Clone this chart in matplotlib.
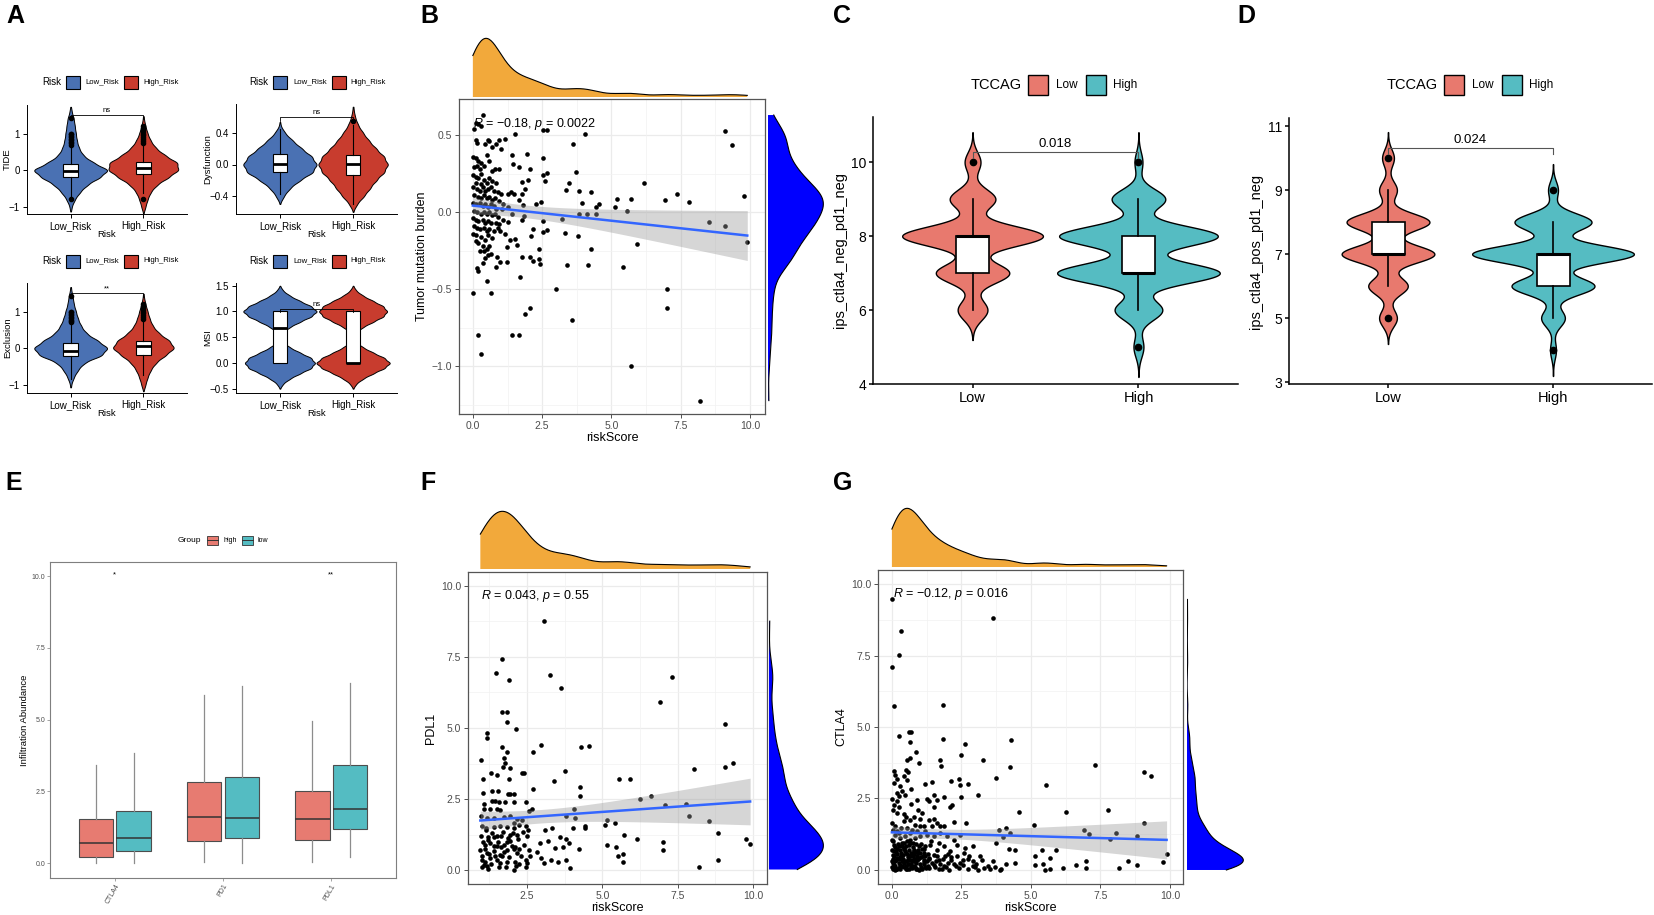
import numpy as np
import matplotlib
matplotlib.use("Agg")
import matplotlib.pyplot as plt
from matplotlib.patches import Rectangle
from matplotlib.lines import Line2D

plt.rcParams['font.family'] = ['Liberation Sans', 'DejaVu Sans']
plt.rcParams['mathtext.fontset'] = 'custom'
plt.rcParams['mathtext.rm'] = 'Liberation Sans'
plt.rcParams['mathtext.it'] = 'Liberation Sans:italic'

W, H = 1654, 915

# ---------------- panel A : TIDE / Dysfunction / Exclusion / MSI ----------------
risk_groups = ['Low_Risk', 'High_Risk']
risk_colors = ['#4A71B3', '#C83C2E']

# density profiles (bin centre -> relative count)
tide_grid = [-1.2, -1.0, -0.8, -0.6, -0.4, -0.2, 0.0, 0.2, 0.4, 0.6, 0.8, 1.0, 1.2, 1.4, 1.6]
tide_low = [0, 1, 4, 9, 16, 28, 37, 22, 12, 8, 6, 5, 4, 3, 1]
tide_high = [0, 2, 4, 7, 13, 24, 34, 33, 21, 12, 7, 4, 2, 0.5, 0]
exc_low = [0, 0.5, 3, 7, 13, 30, 36, 26, 15, 10, 7, 5, 3, 2, 0.5]
exc_high = [0, 2, 4, 7, 12, 21, 30, 25, 15, 9, 6, 4, 2, 0.5, 0]
dys_grid = [-0.6, -0.5, -0.4, -0.3, -0.2, -0.1, 0.0, 0.1, 0.2, 0.3, 0.4, 0.5, 0.6, 0.7]
dys_low = [0, 0, 4, 10, 20, 33, 37, 32, 22, 13, 5, 0.5, 0, 0]
dys_high = [0, 4, 11, 17, 23, 31, 35, 31, 23, 16, 10, 5, 2, 0.5]
msi_grid = [-0.5, -0.4, -0.3, -0.2, -0.1, 0.0, 0.1, 0.2, 0.3, 0.4, 0.5,
            0.6, 0.7, 0.8, 0.9, 1.0, 1.1, 1.2, 1.3, 1.4, 1.5]
msi_low = [0, 3, 10, 20, 31, 35, 31, 20, 10, 3, 1, 3, 10, 20, 31, 37, 31, 20, 10, 3, 0]
msi_high = [0, 3, 10, 20, 31, 37, 31, 20, 10, 3, 1, 3, 10, 20, 30, 34, 30, 20, 10, 3, 0]

# box stats: q1, median, q3, lower whisker, upper whisker
tide_box = [(-0.18, -0.03, 0.17, -0.72, 0.67), (-0.12, 0.07, 0.22, -0.62, 0.7)]
tide_out = [[0.7, 0.74, 0.78, 0.82, 0.86, 0.9, 0.94, 0.98, 1.0, 1.43, -0.8],
            [0.75, 0.8, 0.85, 0.9, 0.95, 1.0, 1.05, 1.1, 1.15, 1.2, -0.8]]
dys_box = [(-0.1, 0.01, 0.13, -0.37, 0.45), (-0.13, 0.01, 0.12, -0.5, 0.5)]
dys_out = [[], [0.55]]
exc_box = [(-0.21, -0.08, 0.14, -0.85, 0.66), (-0.18, 0.05, 0.2, -0.75, 0.75)]
exc_out = [[0.7, 0.74, 0.78, 0.82, 0.86, 0.9, 0.94, 0.98, 1.0, 1.42],
           [0.8, 0.85, 0.9, 0.95, 1.0, 1.05, 1.1, 1.15, 1.2]]
msi_box = [(0.0, 0.67, 1.0, 0.0, 1.0), (0.0, 0.0, 1.0, 0.0, 1.0)]
msi_out = [[], []]

# ---------------- panel B : TMB vs riskScore ----------------
b_pts = [(4.05, 0.51), (3.63, 0.44), (3.72, 0.26), (3.47, 0.19), (3.36, 0.145), (3.84, 0.135),
         (4.27, 0.13), (3.95, 0.056), (4.43, 0.032), (4.56, 0.05), (4.1, -0.01), (4.46, -0.01),
         (3.83, -0.01), (3.2, -0.043), (3.31, -0.136), (3.78, -0.156), (4.25, -0.238), (4.14, -0.34),
         (3.41, -0.34), (3.0, -0.496), (3.56, -0.7), (5.13, 0.032), (5.19, 0.082), (5.56, 0.006),
         (5.69, 0.082), (6.17, 0.186), (5.93, -0.206), (5.43, -0.357), (5.7, -1.0), (6.94, 0.076),
         (7.35, 0.119), (7.81, 0.063), (6.99, -0.496), (6.99, -0.621), (8.52, -0.067), (9.09, -0.089),
         (9.1, 0.524), (9.35, 0.435), (9.78, 0.106), (9.9, -0.195), (8.21, -1.223),
         (1.52, 0.51), (1.15, 0.476), (2.54, 0.53), (2.67, 0.53), (1.94, 0.38), (1.4, 0.37),
         (2.54, 0.35), (2.54, 0.24), (2.67, 0.253), (2.06, 0.28), (1.68, 0.29), (1.44, 0.31),
         (1.78, 0.195), (2.0, 0.21), (2.6, 0.2), (1.88, 0.147), (1.78, 0.119), (1.68, 0.076),
         (2.26, 0.054), (2.46, 0.065), (1.82, 0.043), (1.85, -0.022), (1.76, -0.054), (2.54, -0.058),
         (2.54, -0.13), (2.67, -0.115), (2.16, -0.11), (2.1, -0.154), (2.37, -0.238), (2.37, -0.303),
         (2.43, -0.335), (2.16, -0.32), (1.76, -0.288), (2.06, -0.288), (1.7, -0.42), (2.06, -0.62),
         (1.88, -0.66), (1.67, -0.797), (1.43, -0.797), (1.38, 0.13), (1.49, 0.12), (1.25, 0.12),
         (1.1, 0.054), (1.25, 0.032), (1.04, 0.02), (1.4, -0.01), (1.1, -0.054), (1.25, -0.065),
         (0.98, -0.12), (1.16, -0.14), (1.34, -0.184), (1.22, -0.227), (1.52, -0.173), (1.58, -0.216),
         (0.86, -0.29), (0.98, -0.325), (1.22, -0.325), (0.84, -0.357), (0.5, -0.444), (0.66, -0.524),
         (0.02, -0.524), (0.17, -0.797), (0.31, -0.922),
         (0.36, 0.63), (0.1, 0.58), (0.2, 0.57), (0.3, 0.56), (0.05, 0.54), (0.1, 0.47), (0.15, 0.45),
         (0.6, 0.46), (0.7, 0.42), (0.45, 0.44), (0.55, 0.47), (0.95, 0.47), (0.85, 0.44), (1.0, 0.41),
         (0.0, 0.36), (0.1, 0.35), (0.2, 0.33), (0.3, 0.32), (0.15, 0.30), (0.05, 0.29), (0.25, 0.28),
         (0.4, 0.30), (0.6, 0.33), (0.5, 0.37), (0.7, 0.27), (0.8, 0.28), (0.95, 0.28),
         (0.0, 0.24), (0.1, 0.23), (0.2, 0.22), (0.3, 0.25), (0.4, 0.21), (0.5, 0.19), (0.6, 0.22),
         (0.7, 0.2), (0.85, 0.19), (0.1, 0.19), (0.3, 0.18),
         (0.0, 0.16), (0.15, 0.15), (0.25, 0.14), (0.35, 0.16), (0.45, 0.14), (0.55, 0.15),
         (0.65, 0.16), (0.75, 0.14), (0.9, 0.13), (1.0, 0.12),
         (0.05, 0.11), (0.2, 0.1), (0.3, 0.09), (0.4, 0.11), (0.5, 0.09), (0.6, 0.1), (0.7, 0.08),
         (0.8, 0.09), (0.95, 0.07),
         (0.0, 0.06), (0.1, 0.05), (0.25, 0.06), (0.35, 0.04), (0.45, 0.05), (0.55, 0.03),
         (0.65, 0.05), (0.75, 0.04), (0.85, 0.02),
         (0.05, 0.01), (0.15, 0.0), (0.3, -0.01), (0.4, 0.0), (0.5, -0.01), (0.6, 0.0), (0.7, -0.02),
         (0.8, -0.01), (0.9, -0.03),
         (0.0, -0.04), (0.1, -0.05), (0.2, -0.06), (0.35, -0.05), (0.45, -0.07), (0.55, -0.06),
         (0.65, -0.07), (0.85, -0.07), (0.95, -0.08),
         (0.05, -0.09), (0.15, -0.1), (0.25, -0.11), (0.4, -0.1), (0.5, -0.12), (0.6, -0.11),
         (0.75, -0.12), (0.9, -0.1),
         (0.0, -0.14), (0.1, -0.15), (0.3, -0.16), (0.45, -0.18), (0.55, -0.15), (0.7, -0.17),
         (0.2, -0.2), (0.35, -0.22), (0.4, -0.25), (0.5, -0.24), (0.65, -0.27), (0.1, -0.19),
         (0.25, -0.25), (0.45, -0.3), (0.55, -0.28), (0.15, -0.36), (0.2, -0.38), (0.35, -0.33),
         (0.6, -0.22)]
b_label = r'$R$ = −0.18, $p$ = 0.0022'

# ---------------- panels C / D : IPS scores ----------------
tcc_groups = ['Low', 'High']
tcc_colors = ['#E8796E', '#55BCC2']
c_vals_low, c_cnt_low = [6, 7, 8, 9, 10], [15, 37, 71, 23, 8]
c_vals_high, c_cnt_high = [5, 6, 7, 8, 9, 10], [5, 24, 82, 80, 27, 4]
c_box = [(7, 8, 8, 6, 9), (7, 7, 8, 6, 9)]
c_out = [[10], [10, 5]]
d_vals_low, d_cnt_low = [5, 6, 7, 8, 9, 10], [9, 20, 47, 42, 9, 6]
d_vals_high, d_cnt_high = [4, 5, 6, 7, 8, 9], [3, 12, 42, 82, 39, 5]
d_box = [(7, 7, 8, 6, 9), (6, 7, 7, 5, 8)]
d_out = [[10, 5], [9, 4]]

# ---------------- panel E : checkpoint boxplots ----------------
e_genes = ['CTLA4', 'PD1', 'PDL1']
e_groups = ['high', 'low']
e_colors = ['#E77B71', '#54BCC2']
# q1, median, q3, lower whisker, upper whisker  (high, low per gene)
e_high = [(0.2, 0.69, 1.53, 0.0, 3.41), (0.78, 1.59, 2.82, 0.05, 5.85), (0.8, 1.54, 2.5, 0.05, 4.96)]
e_low = [(0.41, 0.87, 1.82, 0.0, 3.82), (0.86, 1.56, 2.99, 0.0, 6.18), (1.18, 1.87, 3.41, 0.2, 6.26)]
e_sig = ['*', '', '**']

# ---------------- panel F : PDL1 vs riskScore ----------------
f_pts = [(3.08, 8.76), (1.66, 7.42), (1.47, 6.93), (1.89, 6.68), (3.26, 6.85), (3.64, 6.42), (7.33, 6.81),
         (6.92, 5.91), (9.08, 5.13), (1.68, 5.56), (1.83, 5.56), (1.85, 5.2), (2.12, 4.97), (1.18, 4.84),
         (1.18, 4.64), (1.67, 4.34), (2.95, 4.4), (4.28, 4.33), (4.57, 4.38), (1.85, 4.14), (2.7, 4.14),
         (1.75, 3.94), (0.98, 3.88), (1.78, 3.76), (1.69, 3.61), (1.95, 3.59), (1.3, 3.42), (1.5, 3.34),
         (2.34, 3.43), (2.41, 3.43), (3.76, 3.5), (8.05, 3.56), (9.08, 3.63), (9.33, 3.76), (1.04, 3.19),
         (1.89, 3.19), (3.38, 3.13), (5.54, 3.19), (5.92, 3.22), (4.25, 2.93), (2.71, 2.86), (1.04, 2.72),
         (1.35, 2.79), (1.54, 2.79), (1.87, 2.66), (2.06, 2.66), (1.95, 2.66), (4.25, 2.6), (6.62, 2.6),
         (6.26, 2.51), (7.78, 2.33), (7.09, 2.3), (1.07, 2.32), (1.34, 2.44), (1.45, 2.44), (1.56, 2.39),
         (1.76, 2.4), (2.06, 2.39), (2.45, 2.39), (1.07, 2.15), (1.28, 2.15), (1.5, 2.15), (1.61, 2.12),
         (2.56, 2.09), (2.67, 2.16), (4.07, 2.15), (0.98, 1.91), (1.17, 1.83), (1.39, 1.83), (1.72, 1.86),
         (1.95, 1.89), (2.17, 1.79), (2.33, 1.77), (3.8, 1.9), (4.11, 1.83), (7.87, 1.9), (8.53, 1.74),
         (5.15, 1.77), (5.41, 1.64), (5.09, 1.59), (2.06, 1.65), (2.22, 1.59), (2.45, 1.54), (2.52, 1.42),
         (0.99, 1.54), (1.15, 1.48), (1.39, 1.51), (1.61, 1.54), (1.84, 1.5), (2.06, 1.48), (3.34, 1.48),
         (3.11, 1.42), (4.02, 1.48), (4.41, 1.54), (4.44, 1.48), (0.97, 1.21), (1.19, 1.18), (1.42, 1.16),
         (1.64, 1.21), (1.86, 1.13), (2.17, 1.24), (3.61, 1.18), (3.78, 1.09), (3.88, 0.95), (5.72, 1.24),
         (6.15, 1.11), (8.85, 1.32), (9.77, 1.11), (9.91, 0.93), (7.0, 0.98), (7.0, 0.7), (1.12, 0.89),
         (1.28, 0.95), (1.5, 0.83), (1.72, 0.89), (1.95, 1.01), (2.11, 0.81), (0.95, 0.72), (1.17, 0.6),
         (1.39, 0.66), (1.61, 0.54), (1.84, 0.69), (2.06, 0.74), (2.22, 0.74), (2.92, 0.94), (3.19, 1.01),
         (3.42, 0.77), (3.69, 0.81), (4.21, 0.74), (5.15, 0.87), (5.45, 0.8), (2.83, 0.62), (2.61, 0.5),
         (2.96, 0.42), (3.3, 0.36), (3.79, 0.36), (3.54, 0.27), (2.45, 0.34), (2.51, 0.25), (3.05, 0.25),
         (5.53, 0.5), (5.69, 0.56), (5.69, 0.29), (3.94, 0.07), (2.06, 0.02), (8.2, 0.1), (8.83, 0.36),
         (1.01, 0.48), (1.12, 0.3), (1.28, 0.42), (1.5, 0.34), (1.67, 0.48), (1.84, 0.27), (1.06, 0.19),
         (1.17, 0.13), (2.17, 0.6),
         (1.0, 0.35), (1.1, 0.75), (1.2, 1.05), (1.3, 0.2), (1.35, 1.3), (1.45, 0.5), (1.55, 1.0),
         (1.6, 0.25), (1.7, 1.35), (1.75, 0.65), (1.8, 0.1), (1.9, 0.45), (1.95, 1.25), (2.0, 0.85),
         (2.1, 0.3), (2.2, 1.1), (2.3, 0.5), (2.4, 0.9), (2.5, 1.2), (2.55, 0.7), (1.05, 1.0), (1.15, 1.4),
         (1.25, 0.55), (1.4, 0.85), (1.5, 1.2), (1.65, 0.8), (1.85, 1.0), (2.05, 1.3), (2.25, 0.2),
         (2.35, 1.35), (1.02, 0.1), (1.22, 0.05), (1.58, 0.12), (2.15, 0.15), (2.45, 0.1)]
f_label = r'$R$ = 0.043, $p$ = 0.55'

# ---------------- panel G : CTLA4 vs riskScore ----------------
g_pts = [(0.0, 9.46), (0.34, 8.36), (0.25, 7.51), (0.02, 7.1), (0.06, 5.74), (3.63, 8.82), (1.84, 5.76),
         (0.25, 4.68), (0.61, 4.83), (0.69, 4.84), (0.66, 4.47), (1.83, 4.59), (4.28, 4.54), (2.63, 4.39),
         (0.85, 4.12), (0.56, 3.85), (0.66, 3.91), (0.96, 3.74), (1.74, 3.85), (2.48, 4.03), (3.27, 3.85),
         (1.77, 3.64), (4.23, 3.61), (7.32, 3.67), (9.07, 3.41), (9.32, 3.27), (0.49, 3.5), (0.57, 3.41),
         (0.42, 3.27), (0.54, 3.15), (0.06, 3.45), (0.12, 3.33), (0.18, 3.18), (0.06, 3.04), (0.3, 2.92),
         (3.76, 3.22), (5.53, 2.97), (1.19, 3.0), (1.46, 3.06), (2.13, 3.11), (2.41, 3.18), (2.72, 3.0),
         (2.46, 2.98), (0.69, 2.83), (0.36, 2.75), (0.48, 2.63), (0.24, 2.57), (1.86, 2.56), (1.51, 2.63),
         (1.62, 2.46), (2.49, 2.56), (3.08, 2.62), (0.92, 2.43), (1.28, 2.48), (1.32, 2.4), (2.16, 2.26),
         (2.08, 2.19), (1.5, 2.22), (0.01, 2.49), (0.18, 2.4), (0.08, 2.28), (0.24, 2.22), (0.04, 2.11),
         (0.18, 1.99), (4.56, 2.04), (6.25, 2.03), (7.78, 2.1), (0.95, 2.11), (1.09, 2.01), (0.51, 1.87),
         (0.66, 1.76), (0.78, 1.84), (0.42, 1.7), (2.22, 1.69), (2.68, 1.64), (1.32, 1.76), (1.5, 1.78),
         (1.62, 1.64), (1.74, 1.53), (1.86, 1.53), (1.44, 1.55), (1.14, 1.53), (5.1, 1.56), (9.05, 1.63),
         (0.01, 1.64), (0.12, 1.53), (0.04, 1.41), (0.2, 1.35), (0.32, 1.47), (0.54, 1.47), (0.72, 1.41),
         (0.9, 1.35), (1.02, 1.53), (0.84, 1.58), (3.84, 1.41), (4.12, 1.47), (6.9, 1.41), (7.09, 1.27),
         (7.84, 1.09), (8.05, 1.29), (8.83, 1.2), (4.26, 1.29), (4.01, 1.14), (3.76, 0.94), (1.26, 1.23),
         (1.5, 1.18), (1.74, 1.29), (1.98, 1.18), (2.22, 1.06), (2.46, 1.23), (0.12, 1.23), (0.3, 1.12),
         (0.48, 1.18), (0.66, 1.06), (0.84, 1.12), (1.02, 1.18), (0.0, 1.06),
         (0.06, 0.88), (0.24, 0.83), (0.42, 0.77), (0.6, 0.88), (0.78, 0.71), (0.96, 0.83), (1.14, 0.73),
         (1.38, 0.88), (1.62, 0.71), (1.86, 0.83), (2.1, 0.65), (2.34, 0.88), (2.64, 0.77), (2.91, 0.83),
         (4.2, 0.75), (4.41, 0.71), (5.4, 0.69), (5.92, 0.69),
         (0.05, 0.54), (0.2, 0.42), (0.4, 0.54), (0.57, 0.36), (0.75, 0.48), (0.92, 0.34), (1.11, 0.48),
         (1.32, 0.38), (1.52, 0.54), (1.71, 0.36), (1.92, 0.48), (2.12, 0.34), (2.34, 0.5), (2.55, 0.36),
         (2.79, 0.48), (3.17, 0.5), (5.15, 0.5), (5.69, 0.42), (9.88, 0.57), (9.76, 0.28), (8.5, 0.33),
         (6.98, 0.3), (6.61, 0.19), (6.98, 0.07), (5.15, 0.19), (5.45, 0.22), (4.43, 0.24), (4.1, 0.22),
         (8.8, 0.17), (8.18, 0.06), (6.14, 0.07), (5.69, 0.05), (5.51, 0.01),
         (0.06, 0.19), (0.24, 0.07), (0.42, 0.24), (0.6, 0.03), (0.78, 0.15), (0.96, 0.01), (1.14, 0.22),
         (1.32, 0.07), (1.5, 0.19), (1.68, 0.03), (1.86, 0.15), (2.04, 0.01), (2.22, 0.22), (2.4, 0.07),
         (2.57, 0.19), (2.75, 0.03), (2.93, 0.15), (3.11, 0.01), (3.32, 0.07), (3.53, 0.03), (3.71, 0.1),
         (3.89, 0.01),
         (0.1, 0.3), (0.3, 0.1), (0.5, 0.6), (0.7, 0.2), (0.9, 0.62), (1.2, 0.1), (0.15, 0.62), (0.35, 0.95),
         (0.55, 1.0), (0.75, 0.95), (0.95, 0.4), (1.05, 0.9), (0.25, 1.3), (0.65, 1.3), (1.2, 1.35),
         (0.02, 0.3), (0.02, 0.7), (0.1, 0.0), (0.3, 0.45), (0.5, 0.15), (0.8, 0.3), (1.0, 0.6), (1.3, 0.55),
         (1.6, 0.3), (1.8, 0.05), (2.0, 0.25), (2.3, 0.15), (0.45, 1.95), (0.2, 2.7), (0.7, 2.3), (1.0, 1.8),
         (1.15, 0.35), (1.4, 1.0), (1.7, 0.95), (2.0, 0.55), (2.6, 0.6), (2.9, 0.3), (3.0, 0.1), (0.05, 0.05),
         (0.35, 0.3), (0.6, 0.5), (0.85, 0.05),
         (0.02, 0.1), (0.05, 0.4), (0.08, 0.65), (0.1, 0.15), (0.12, 0.8), (0.15, 0.35), (0.18, 0.05),
         (0.2, 0.55), (0.22, 0.9), (0.25, 0.25), (0.28, 0.7), (0.3, 0.02), (0.32, 0.5), (0.35, 0.85),
         (0.38, 0.15), (0.4, 0.4), (0.42, 0.95), (0.45, 0.1), (0.48, 0.65), (0.5, 0.3), (0.52, 0.85),
         (0.55, 0.05), (0.58, 0.45), (0.6, 0.7), (0.62, 0.2), (0.65, 0.95), (0.68, 0.35), (0.7, 0.6),
         (0.72, 0.08), (0.75, 0.8), (0.78, 0.4), (0.8, 0.55), (0.82, 0.12), (0.85, 0.9), (0.88, 0.25),
         (0.9, 0.5), (0.95, 0.7), (1.0, 0.2), (1.05, 0.45), (1.1, 0.05), (1.15, 0.6), (1.2, 0.85),
         (1.25, 0.3), (1.3, 0.15), (0.03, 1.0),
         (0.04, 0.25), (0.09, 0.5), (0.14, 0.02), (0.19, 0.75), (0.24, 0.4), (0.29, 0.18), (0.34, 0.6),
         (0.39, 0.3), (0.44, 0.75), (0.49, 0.05), (0.54, 0.55), (0.59, 0.22), (0.64, 0.48), (0.69, 0.1),
         (0.74, 0.32), (0.79, 0.68), (0.84, 0.38), (0.89, 0.02), (0.94, 0.58), (0.99, 0.42), (1.04, 0.12),
         (1.09, 0.72), (1.14, 0.28), (1.19, 0.5), (1.24, 0.06), (1.34, 0.42), (1.44, 0.26), (1.54, 0.12),
         (1.64, 0.48), (1.74, 0.2), (1.84, 0.38), (1.94, 0.1), (2.14, 0.45), (2.44, 0.25), (2.74, 0.4),
         (3.04, 0.2), (3.24, 0.35), (3.44, 0.15), (3.64, 0.3), (3.94, 0.05)]
g_label = r'$R$ = −0.12, $p$ = 0.016'

# =====================================================================
fig = plt.figure(figsize=(W / 100, H / 100), dpi=100)
fig.patch.set_facecolor('white')


def add_ax(x0, y0, x1, y1):
    return fig.add_axes([x0 / W, 1 - y1 / H, (x1 - x0) / W, (y1 - y0) / H])


def fx(px):
    return px / W


def fy(py):
    return 1 - py / H


def legend_row(title, tx, ty, items, tsize, lsize, bw, bh, lw=0.8, key='box'):
    fig.text(fx(tx), fy(ty), title, fontsize=tsize, ha='left', va='center')
    for bx, col, lx, lab in items:
        fig.add_artist(Rectangle((fx(bx), fy(ty + bh / 2)), bw / W, bh / H, transform=fig.transFigure,
                                 facecolor=col, edgecolor='#333333' if key == 'bp' else 'black', lw=lw))
        if key == 'bp':
            fig.add_artist(Line2D([fx(bx), fx(bx + bw)], [fy(ty), fy(ty)], transform=fig.transFigure,
                                  color='#333333', lw=0.7))
        fig.text(fx(lx), fy(ty), lab, fontsize=lsize, ha='left', va='center')


def kde_counts(centers, counts, bw, ys):
    c = np.asarray(centers, float)[:, None]
    w = np.asarray(counts, float)[:, None]
    return (w * np.exp(-0.5 * ((ys[None, :] - c) / bw) ** 2)).sum(0)


def violin(ax, pos, centers, counts, bw, scale, color, lw, lo=None, hi=None, crop=0.01):
    if lo is None:
        ys = np.linspace(min(centers) - 3 * bw, max(centers) + 3 * bw, 600)
        d = kde_counts(centers, counts, bw, ys)
        keep = np.where(d > crop * d.max())[0]
        ys, d = ys[keep[0]:keep[-1] + 1], d[keep[0]:keep[-1] + 1]
    else:
        ys = np.linspace(lo, hi, 600)
        d = kde_counts(centers, counts, bw, ys)
    d = d * scale
    ax.fill_betweenx(ys, pos - d, pos + d, facecolor=color, edgecolor='black', lw=lw, zorder=2)


def box_stats(t, fl):
    return dict(q1=t[0], med=t[1], q3=t[2], whislo=t[3], whishi=t[4], fliers=fl)


def kde_peak(centers, counts, bw):
    ys = np.linspace(min(centers) - 1, max(centers) + 1, 800)
    return kde_counts(centers, counts, bw, ys).max()


def classic_axes(ax, lw, tick_size):
    for s in ['top', 'right']:
        ax.spines[s].set_visible(False)
    for s in ['left', 'bottom']:
        ax.spines[s].set_linewidth(lw)
    ax.tick_params(width=lw, length=3, labelsize=tick_size, colors='black', pad=2)


# ---------------- panel A ----------------
a_specs = [
    ((27, 105, 187, 214), 82, tide_grid, tide_low, tide_high, 0.1, tide_box, tide_out,
     (-1.2, 1.78), [-1, 0, 1], ['−1', '0', '1'], 'TIDE', 1.5, 'ns'),
    ((236, 104, 397, 214), 82, dys_grid, dys_low, dys_high, 0.05, dys_box, dys_out,
     (-0.63, 0.77), [-0.4, 0.0, 0.4], ['−0.4', '0.0', '0.4'], 'Dysfunction', 0.6, 'ns'),
    ((27, 283, 187, 393), 261, tide_grid, exc_low, exc_high, 0.1, exc_box, exc_out,
     (-1.23, 1.78), [-1, 0, 1], ['−1', '0', '1'], 'Exclusion', 1.5, '**'),
    ((236, 283, 397, 393), 261, msi_grid, msi_low, msi_high, 0.05, msi_box, msi_out,
     (-0.58, 1.55), [-0.5, 0.0, 0.5, 1.0, 1.5], ['−0.5', '0.0', '0.5', '1.0', '1.5'], 'MSI', 1.05, 'ns'),
]
for rect, ly, grid, cl, ch, bwa, boxes, outs, ylim, yt, ytl, ylab, bry, sig in a_specs:
    ax = add_ax(*rect)
    peak = max(kde_peak(grid, cl, bwa), kde_peak(grid, ch, bwa))
    for i, cnt in enumerate([cl, ch]):
        violin(ax, i + 1, grid, cnt, bwa, 0.5 / peak, risk_colors[i], 0.7)
    ax.bxp([box_stats(boxes[0], outs[0]), box_stats(boxes[1], outs[1])], positions=[1, 2], widths=0.2,
           patch_artist=True, showcaps=False,
           boxprops=dict(facecolor='white', edgecolor='black', lw=0.8),
           medianprops=dict(color='black', lw=2.0),
           whiskerprops=dict(color='black', lw=0.8),
           flierprops=dict(marker='o', markerfacecolor='black', markeredgecolor='black', markersize=3),
           zorder=3)
    span = ylim[1] - ylim[0]
    ax.plot([1, 1, 2, 2], [bry - 0.03 * span, bry, bry, bry - 0.03 * span], color='black', lw=0.6, zorder=4)
    ax.text(1.5, bry + 0.01 * span, sig, ha='center', va='bottom', fontsize=5.5)
    ax.set_xlim(0.4, 2.6)
    ax.set_ylim(*ylim)
    ax.set_yticks(yt)
    ax.set_yticklabels(ytl)
    ax.set_xticks([1, 2])
    ax.set_xticklabels(risk_groups, fontsize=7)
    classic_axes(ax, 0.7, 7)
    ax.set_ylabel(ylab, fontsize=6.8)
    ax.set_xlabel('Risk', fontsize=6.8)
    x0 = rect[0]
    if x0 < 100:
        ax.yaxis.set_label_coords(-0.094, 0.5)
        items = [(66, risk_colors[0], 85, 'Low_Risk'), (124, risk_colors[1], 143, 'High_Risk')]
        legend_row('Risk', 42, ly, items, 7, 5.6, 14, 13)
    else:
        ax.yaxis.set_label_coords(-0.149, 0.5)
        items = [(273, risk_colors[0], 293, 'Low_Risk'), (332, risk_colors[1], 350, 'High_Risk')]
        legend_row('Risk', 249, ly, items, 7, 5.6, 14, 13)
    ax.xaxis.set_label_coords(0.5, -0.145)


# ---------------- scatter + marginal helper (B, F, G) ----------------
def nrd0(v):
    v = np.asarray(v, float)
    iqr = np.subtract(*np.percentile(v, [75, 25]))
    return 0.9 * min(np.std(v, ddof=1), iqr / 1.34) * len(v) ** -0.2


def density(v, grid):
    v = np.asarray(v, float)
    h = nrd0(v)
    return np.exp(-0.5 * ((grid[:, None] - v[None, :]) / h) ** 2).sum(1) / (len(v) * h * np.sqrt(2 * np.pi))


def scatter_panel(pts, main, top, right, xlim, ylim, xt, xtl, yt, ytl, ylab, label, lab_xy):
    x, y = np.array(pts, float).T
    ax = add_ax(*main)
    ax.set_facecolor('white')
    for v in xt:
        ax.axvline(v, color='#EBEBEB', lw=0.9, zorder=0)
    for v in yt:
        ax.axhline(v, color='#EBEBEB', lw=0.9, zorder=0)
    xm = np.array(xt[:-1]) + np.diff(xt) / 2
    ym = np.array(yt[:-1]) + np.diff(yt) / 2
    for v in list(xm) + [xt[0] - (xt[1] - xt[0]) / 2]:
        ax.axvline(v, color='#F2F2F2', lw=0.5, zorder=0)
    for v in list(ym) + [yt[-1] + (yt[1] - yt[0]) / 2, yt[0] - (yt[1] - yt[0]) / 2]:
        ax.axhline(v, color='#F2F2F2', lw=0.5, zorder=0)
    ax.scatter(x, y, s=11, color='black', linewidths=0, zorder=2)
    # linear fit with 95% band
    b, a = np.polyfit(x, y, 1)
    xs = np.linspace(x.min(), x.max(), 100)
    yh = a + b * xs
    n = len(x)
    s = np.sqrt(((y - (a + b * x)) ** 2).sum() / (n - 2))
    se = s * np.sqrt(1 / n + (xs - x.mean()) ** 2 / ((x - x.mean()) ** 2).sum())
    ax.fill_between(xs, yh - 1.97 * se, yh + 1.97 * se, color='#999999', alpha=0.4, lw=0, zorder=3)
    ax.plot(xs, yh, color='#3366FF', lw=1.8, zorder=4)
    ax.text(lab_xy[0], lab_xy[1], label, fontsize=9, ha='left', va='center', zorder=5)
    ax.set_xlim(*xlim)
    ax.set_ylim(*ylim)
    ax.set_xticks(xt)
    ax.set_xticklabels(xtl)
    ax.set_yticks(yt)
    ax.set_yticklabels(ytl)
    for sp in ax.spines.values():
        sp.set_color('#555555')
        sp.set_linewidth(0.9)
    ax.tick_params(length=3, width=0.6, color='#333333', labelsize=7.5, labelcolor='#4D4D4D', pad=2)
    ax.set_ylabel(ylab, fontsize=9)
    ax.yaxis.set_label_coords(-31 / (main[2] - main[0]), 0.5)
    ax.set_xlabel('riskScore', fontsize=9, labelpad=1)

    gx = np.linspace(x.min(), x.max(), 300)
    dx = density(x, gx)
    axt = add_ax(*top)
    axt.fill_between(gx, 0, dx, facecolor='#F2A93B', edgecolor='none')
    axt.plot(gx, dx, color='black', lw=0.8)
    axt.set_xlim(*xlim)
    axt.set_ylim(0, dx.max() * 1.04)
    axt.axis('off')

    gy = np.linspace(y.min(), y.max(), 300)
    dy = density(y, gy)
    axr = add_ax(*right)
    axr.fill_betweenx(gy, 0, dy, facecolor='#0000FF', edgecolor='none')
    axr.plot(dy, gy, color='black', lw=0.8)
    axr.set_ylim(*ylim)
    axr.set_xlim(0, dy.max() * 1.03)
    axr.axis('off')


scatter_panel(b_pts, (459, 99, 765, 414), (459, 36, 765, 97), (768, 99, 825, 414),
              (-0.5, 10.54), (-1.31, 0.734), [0, 2.5, 5, 7.5, 10], ['0.0', '2.5', '5.0', '7.5', '10.0'],
              [-1.0, -0.5, 0.0, 0.5], ['−1.0', '−0.5', '0.0', '0.5'], 'Tumor mutation burden',
              b_label, (0.02, 0.575))
scatter_panel(f_pts, (468, 572, 767, 884), (468, 509, 767, 569), (769, 572, 825, 884),
              (0.54, 10.47), (-0.49, 10.49), [2.5, 5, 7.5, 10], ['2.5', '5.0', '7.5', '10.0'],
              [0, 2.5, 5, 7.5, 10], ['0.0', '2.5', '5.0', '7.5', '10.0'], 'PDL1',
              f_label, (0.98, 9.66))
scatter_panel(g_pts, (878, 570, 1183, 884), (878, 506, 1183, 567), (1187, 570, 1245, 884),
              (-0.5, 10.47), (-0.49, 10.49), [0, 2.5, 5, 7.5, 10], ['0.0', '2.5', '5.0', '7.5', '10.0'],
              [0, 2.5, 5, 7.5, 10], ['0.0', '2.5', '5.0', '7.5', '10.0'], 'CTLA4',
              g_label, (0.03, 9.65))


# ---------------- panels C / D ----------------
def ips_panel(rect, vl, cl, vh, ch, bwv, boxes, outs, ylim, yt, ylab, bry, ptxt, leg_x):
    ax = add_ax(*rect)
    peak = max(kde_peak(vl, cl, bwv), kde_peak(vh, ch, bwv))
    for i, (v, c) in enumerate([(vl, cl), (vh, ch)]):
        violin(ax, i + 1, v, c, bwv, 0.49 / peak, tcc_colors[i], 1.0,
               lo=min(v) - 3 * bwv, hi=max(v) + 3 * bwv)
    ax.bxp([box_stats(boxes[0], outs[0]), box_stats(boxes[1], outs[1])], positions=[1, 2], widths=0.2,
           patch_artist=True, showcaps=False,
           boxprops=dict(facecolor='white', edgecolor='black', lw=1.2),
           medianprops=dict(color='black', lw=2.2),
           whiskerprops=dict(color='black', lw=1.2),
           flierprops=dict(marker='o', markerfacecolor='black', markeredgecolor='black', markersize=4.5),
           zorder=3)
    ax.plot([1, 1, 2, 2], [bry - 0.17, bry, bry, bry - 0.17], color='#555555', lw=0.8, zorder=4)
    ax.text(1.5, bry + 0.05, ptxt, ha='center', va='bottom', fontsize=9.5)
    ax.set_xlim(0.4, 2.6)
    ax.set_ylim(*ylim)
    ax.set_yticks(yt)
    ax.set_xticks([1, 2])
    ax.set_xticklabels(tcc_groups, fontsize=10.5)
    classic_axes(ax, 1.1, 10)
    ax.tick_params(axis='x', labelsize=10.5)
    ax.set_ylabel(ylab, fontsize=10.5)
    ax.yaxis.set_label_coords(-26 / (rect[2] - rect[0]), 0.5)
    items = [(leg_x + 57, tcc_colors[0], leg_x + 85, 'Low'), (leg_x + 115, tcc_colors[1], leg_x + 142, 'High')]
    legend_row('TCCAG', leg_x, 85, items, 10.5, 8.5, 20, 20, lw=1.0)


ips_panel((873, 117, 1238, 384), c_vals_low, c_cnt_low, c_vals_high, c_cnt_high, 0.27, c_box, c_out,
          (4.0, 11.22), [4, 6, 8, 10], 'ips_ctla4_neg_pd1_neg', 10.27, '0.018', 971)
ips_panel((1289, 118, 1652, 384), d_vals_low, d_cnt_low, d_vals_high, d_cnt_high, 0.27, d_box, d_out,
          (2.94, 11.25), [3, 5, 7, 9, 11], 'ips_ctla4_pos_pd1_neg', 10.31, '0.024', 1387)

# ---------------- panel E ----------------
axe = add_ax(50, 562, 396, 878)
stats, pos, cols = [], [], []
for i in range(len(e_genes)):
    for j, grp in enumerate([e_high, e_low]):
        stats.append(box_stats(grp[i], []))
        pos.append(i + 1 + (-0.175 if j == 0 else 0.175))
        cols.append(e_colors[j])
bp = axe.bxp(stats, positions=pos, widths=0.32, patch_artist=True, showcaps=False,
             boxprops=dict(edgecolor='#4D4D4D', lw=0.8),
             medianprops=dict(color='#333333', lw=1.1),
             whiskerprops=dict(color='#8C8C8C', lw=0.9))
for patch, c in zip(bp['boxes'], cols):
    patch.set_facecolor(c)
for i, s in enumerate(e_sig):
    axe.text(i + 1, 10.05, s, ha='center', va='center', fontsize=5.5)
axe.set_xlim(0.4, 3.6)
axe.set_ylim(-0.52, 10.49)
axe.set_xticks([1, 2, 3])
axe.set_xticklabels(e_genes, rotation=60, ha='right', va='top', fontsize=5, color='#4D4D4D',
                    rotation_mode='anchor')
axe.set_yticks([0, 2.5, 5, 7.5, 10])
axe.set_yticklabels(['0.0', '2.5', '5.0', '7.5', '10.0'], fontsize=5, color='#4D4D4D')
axe.tick_params(length=2, width=0.5, color='#7F7F7F', pad=1.5)
for sp in axe.spines.values():
    sp.set_color('#7F7F7F')
    sp.set_linewidth(0.8)
axe.set_ylabel('Infiltration Abundance', fontsize=6.8)
axe.yaxis.set_label_coords(-21 / 346, 0.5)
legend_row('Group', 178, 540, [(207, e_colors[0], 224, 'high'), (242, e_colors[1], 258, 'low')],
           6, 5, 11, 9, lw=0.6, key='bp')

# ---------------- panel letters ----------------
for lab, x, y in [('A', 6, 16), ('B', 420, 16), ('C', 833, 16), ('D', 1237, 16),
                  ('E', 5, 483), ('F', 420, 483), ('G', 833, 483)]:
    fig.text(fx(x), fy(y), lab, fontsize=18, fontweight='bold', ha='left', va='center')

fig.savefig('out.png', dpi=100, facecolor='white')
